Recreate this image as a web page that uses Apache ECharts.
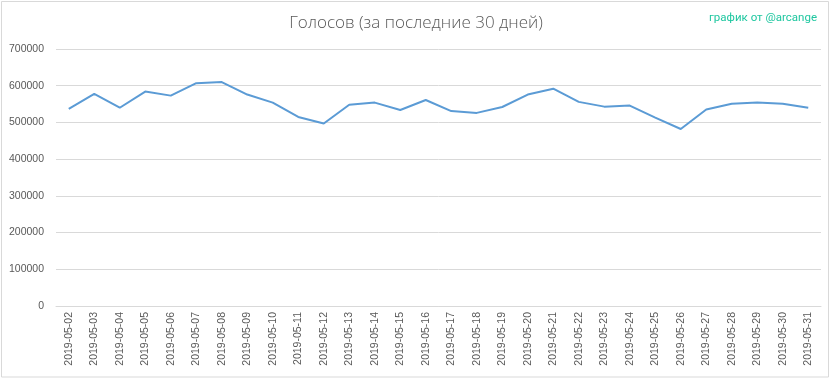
<!DOCTYPE html>
<html>
<head>
<meta charset="utf-8">
<script src="https://cdn.jsdelivr.net/npm/echarts@6/dist/echarts.min.js"></script>
<style>
html,body{margin:0;padding:0;background:#fff;}
#chart{width:832px;height:379px;}
</style>
</head>
<body>
<div id="chart"></div>
<script>
const titleText = 'Голосов (за последние 30 дней)';
const creditText = 'график от @arcange';
const dates = ['2019-05-02','2019-05-03','2019-05-04','2019-05-05','2019-05-06','2019-05-07','2019-05-08','2019-05-09','2019-05-10','2019-05-11','2019-05-12','2019-05-13','2019-05-14','2019-05-15','2019-05-16','2019-05-17','2019-05-18','2019-05-19','2019-05-20','2019-05-21','2019-05-22','2019-05-23','2019-05-24','2019-05-25','2019-05-26','2019-05-27','2019-05-28','2019-05-29','2019-05-30','2019-05-31'];
const votes = [537000,578000,540000,584000,573000,607000,610000,576000,554000,515000,497000,548000,554000,534000,561000,531000,526000,542000,576000,592000,556000,543000,546000,513000,482000,535000,551000,554000,551000,540000];
const yTicks = [0,100000,200000,300000,400000,500000,600000,700000];

const chart = echarts.init(document.getElementById('chart'));
chart.setOption({
  animation: false,
  backgroundColor: '#fff',
  title: [{
    text: titleText,
    left: 'center',
    top: 10,
    textStyle: {fontFamily: 'Open Sans', fontWeight: 300, fontSize: 17, color: '#595959'}
  }, {
    text: creditText,
    right: 10,
    top: 7,
    textStyle: {fontFamily: 'Roboto', fontWeight: 'normal', fontSize: 11.5, color: '#1fc7a0'}
  }],
  graphic: [{
    type: 'rect',
    shape: {x: 1.5, y: 1.5, width: 827, height: 375.5},
    style: {fill: 'none', stroke: '#d9d9d9', lineWidth: 1},
    silent: true
  }],
  grid: {left: 56, right: 11, top: 49, bottom: 73, containLabel: false},
  xAxis: {
    type: 'category',
    data: dates,
    boundaryGap: true,
    axisLine: {show: true, lineStyle: {color: '#d9d9d9', width: 1}},
    axisTick: {show: false},
    axisLabel: {rotate: 90, interval: 0, margin: 6, fontFamily: 'Liberation Sans', fontSize: 10.5, color: '#595959'}
  },
  yAxis: {
    type: 'value',
    min: yTicks[0],
    max: yTicks[yTicks.length - 1],
    interval: yTicks[1] - yTicks[0],
    axisLine: {show: false},
    axisTick: {show: false},
    splitLine: {lineStyle: {color: '#d9d9d9', width: 1}},
    axisLabel: {margin: 12, fontFamily: 'Liberation Sans', fontSize: 10.5, color: '#595959', formatter: function (v) { return String(v); }}
  },
  series: [{
    type: 'line',
    data: votes,
    showSymbol: false,
    symbol: 'none',
    lineStyle: {color: '#5b9bd5', width: 2},
    itemStyle: {color: '#5b9bd5'}
  }]
});
</script>
</body>
</html>
